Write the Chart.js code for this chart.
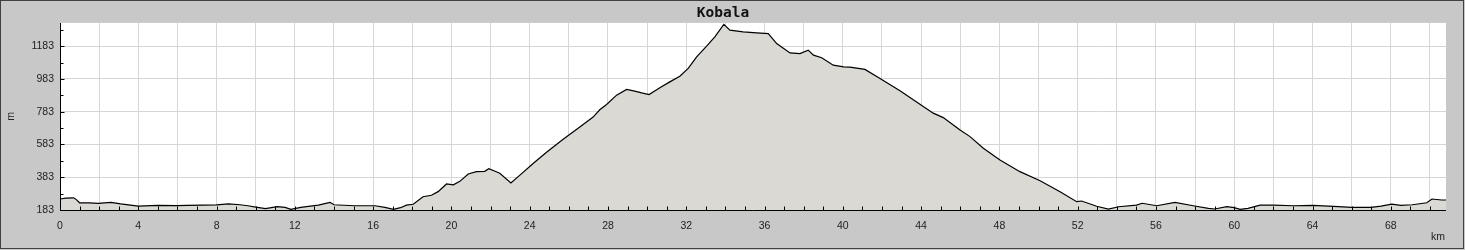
<!DOCTYPE html>
<html>
<head>
<meta charset="utf-8">
<script src="https://cdn.jsdelivr.net/npm/chart.js@4.4.1/dist/chart.umd.min.js"></script>
<style>
html,body{margin:0;padding:0;background:#c8c8c8;overflow:hidden}
#wrap{width:1465px;height:250px;position:relative}
canvas{display:block}
</style>
</head>
<body>
<div id="wrap"><canvas id="c" width="1465" height="250"></canvas></div>
<script>
const chartTitle = 'Kobala';
const yAxisTitle = 'm';
const xAxisTitle = 'km';

const distanceKm = [
  0.0, 0.3, 0.7, 0.85, 1.0, 1.5, 1.96, 2.6, 3.1, 3.6, 4.0, 5.0, 6.0, 6.5, 7.3, 8.0, 8.6, 9.2, 9.6, 10.0,
  10.5, 11.1, 11.5, 11.8, 12.3, 12.8, 13.2, 13.8, 14.0, 14.5, 15.06, 16.1, 16.6, 17.04, 17.4, 17.7, 18.05, 18.55, 18.98, 19.32,
  19.75, 20.1, 20.43, 20.86, 21.28, 21.7, 21.91, 22.2, 22.47, 23.04, 23.5, 24.19, 24.86, 25.71, 26.56, 27.24, 27.58, 27.93, 28.44, 28.95,
  29.37, 29.72, 30.1, 30.65, 31.16, 31.67, 32.1, 32.53, 33.04, 33.46, 33.92, 34.23, 34.91, 35.6, 36.19, 36.62, 37.3, 37.81, 38.23, 38.5,
  38.92, 39.51, 40.04, 40.36, 41.13, 41.9, 42.92, 43.94, 44.62, 45.13, 45.99, 46.5, 47.18, 48.03, 49.05, 50.08, 51.1, 51.95, 52.2, 52.97,
  53.57, 54.1, 55.0, 55.3, 56.04, 56.97, 57.9, 58.68, 59.0, 59.62, 60.0, 60.3, 60.7, 61.32, 62.0, 63.02, 64.0, 65.08, 66.0, 67.0,
  67.5, 68.05, 68.5, 69.1, 69.84, 70.1, 70.6, 70.82
];
const elevationM = [
  250, 256, 257, 245, 227, 226, 224, 230, 220, 213, 207, 211, 210, 211, 213, 214, 220, 215, 209, 201,
  191, 203, 199, 187, 199, 207, 213, 230, 215, 212, 209, 209, 199, 187, 197, 213, 218, 264, 273, 295,
  342, 337, 358, 403, 417, 419, 435, 421, 407, 348, 396, 468, 535, 615, 690, 750, 795, 827, 884, 919,
  909, 898, 888, 929, 965, 1000, 1047, 1118, 1183, 1240, 1316, 1281, 1270, 1264, 1260, 1199, 1142, 1138, 1159, 1128,
  1112, 1067, 1057, 1055, 1041, 986, 911, 828, 774, 747, 672, 631, 560, 488, 417, 362, 295, 234, 238, 206,
  189, 203, 213, 224, 209, 230, 209, 193, 189, 203, 197, 187, 193, 213, 213, 209, 211, 205, 199, 199,
  207, 219, 211, 215, 227, 250, 244, 244
];

const yTickValues = [183, 383, 583, 783, 983, 1183];
const yMinorTickValues = [183, 283, 383, 483, 583, 683, 783, 883, 983, 1083, 1183, 1283];
const xGridValues = [0, 2, 4, 6, 8, 10, 12, 14, 16, 18, 20, 22, 24, 26, 28, 30, 32, 34, 36, 38, 40, 42, 44, 46, 48, 50, 52, 54, 56, 58, 60, 62, 64, 66, 68, 70];
const xLabelValues = [0, 4, 8, 12, 16, 20, 24, 28, 32, 36, 40, 44, 48, 52, 56, 60, 64, 68];
const xMinorTickValues = [0, 1, 2, 3, 4, 5, 6, 7, 8, 9, 10, 11, 12, 13, 14, 15, 16, 17, 18, 19, 20, 21, 22, 23, 24, 25, 26, 27, 28, 29, 30, 31, 32, 33, 34, 35, 36, 37, 38, 39, 40, 41, 42, 43, 44, 45, 46, 47, 48, 49, 50, 51, 52, 53, 54, 55, 56, 57, 58, 59, 60, 61, 62, 63, 64, 65, 66, 67, 68, 69, 70];

const xMin = 0, xMax = 70.82, yMin = 183, yMax = 1325;

const points = distanceKm.map((d, i) => ({ x: d, y: elevationM[i] }));
const tickFont = { family: 'Liberation Sans', size: 10.5 };

const framePlugin = {
  id: 'frame',
  beforeDraw(chart) {
    const ctx = chart.ctx, a = chart.chartArea;
    ctx.save();
    ctx.fillStyle = '#c8c8c8';
    ctx.fillRect(0, 0, chart.width, chart.height);
    ctx.fillStyle = '#ffffff';
    ctx.fillRect(a.left, a.top, a.right - a.left, a.bottom - a.top);
    ctx.restore();
  },
  afterDraw(chart) {
    const ctx = chart.ctx, a = chart.chartArea;
    const xs = chart.scales.x, ys = chart.scales.y;
    ctx.save();
    ctx.strokeStyle = '#000';
    ctx.lineWidth = 1;
    ctx.beginPath();
    const L = Math.round(a.left) + 0.5, B = Math.round(a.bottom) + 0.5;
    ctx.moveTo(L, Math.round(a.top));
    ctx.lineTo(L, B);
    ctx.lineTo(Math.round(a.right), B);
    yMinorTickValues.forEach(v => {
      const p = Math.round(ys.getPixelForValue(v)) + 0.5;
      const len = yTickValues.includes(v) ? 4 : 3;
      ctx.moveTo(L, p); ctx.lineTo(L + len, p);
    });
    xMinorTickValues.forEach(v => {
      const p = Math.round(xs.getPixelForValue(v)) + 0.5;
      ctx.moveTo(p, B); ctx.lineTo(p, B - 4);
    });
    ctx.stroke();
    ctx.strokeStyle = '#404040';
    ctx.strokeRect(0.5, 0.5, chart.width - 2, chart.height - 2);
    ctx.fillStyle = '#222';
    ctx.font = '10.5px "Liberation Sans"';
    ctx.textAlign = 'center';
    ctx.textBaseline = 'middle';
    ctx.fillText(xAxisTitle, 1438, 237);
    ctx.translate(11, (a.top + a.bottom) / 2);
    ctx.rotate(-Math.PI / 2);
    ctx.fillText(yAxisTitle, 0, 0);
    ctx.restore();
  }
};

new Chart(document.getElementById('c'), {
  type: 'line',
  data: {
    datasets: [{
      data: points,
      borderColor: '#000',
      borderWidth: 1.2,
      backgroundColor: 'rgb(218,217,212)',
      fill: 'start',
      pointRadius: 0,
      tension: 0
    }]
  },
  options: {
    responsive: false,
    devicePixelRatio: 1,
    animation: false,
    layout: { padding: { left: 0, right: 19, top: 0, bottom: 0 } },
    plugins: {
      legend: { display: false },
      tooltip: { enabled: false },
      title: {
        display: true,
        text: chartTitle,
        color: '#111',
        font: { family: 'DejaVu Sans Mono', size: 14.5, weight: 'bold' },
        padding: { top: 4.5, bottom: 1 }
      }
    },
    scales: {
      x: {
        type: 'linear',
        min: xMin,
        max: xMax,
        afterFit(s) { s.height = 40; },
        afterBuildTicks(s) { s.ticks = xGridValues.map(v => ({ value: v })); },
        border: { display: false },
        grid: { color: '#d6d6d6', lineWidth: 1, drawTicks: false },
        ticks: {
          autoSkip: false,
          maxRotation: 0,
          padding: 10,
          color: '#222',
          font: tickFont,
          callback: v => xLabelValues.includes(v) ? String(v) : ''
        }
      },
      y: {
        type: 'linear',
        min: yMin,
        max: yMax,
        afterFit(s) { s.width = 60; },
        afterBuildTicks(s) { s.ticks = yTickValues.map(v => ({ value: v })); },
        border: { display: false },
        grid: { color: '#d6d6d6', lineWidth: 1, drawTicks: false },
        ticks: {
          padding: 6,
          color: '#222',
          font: tickFont,
          callback: v => String(v)
        }
      }
    }
  },
  plugins: [framePlugin]
});
</script>
</body>
</html>
